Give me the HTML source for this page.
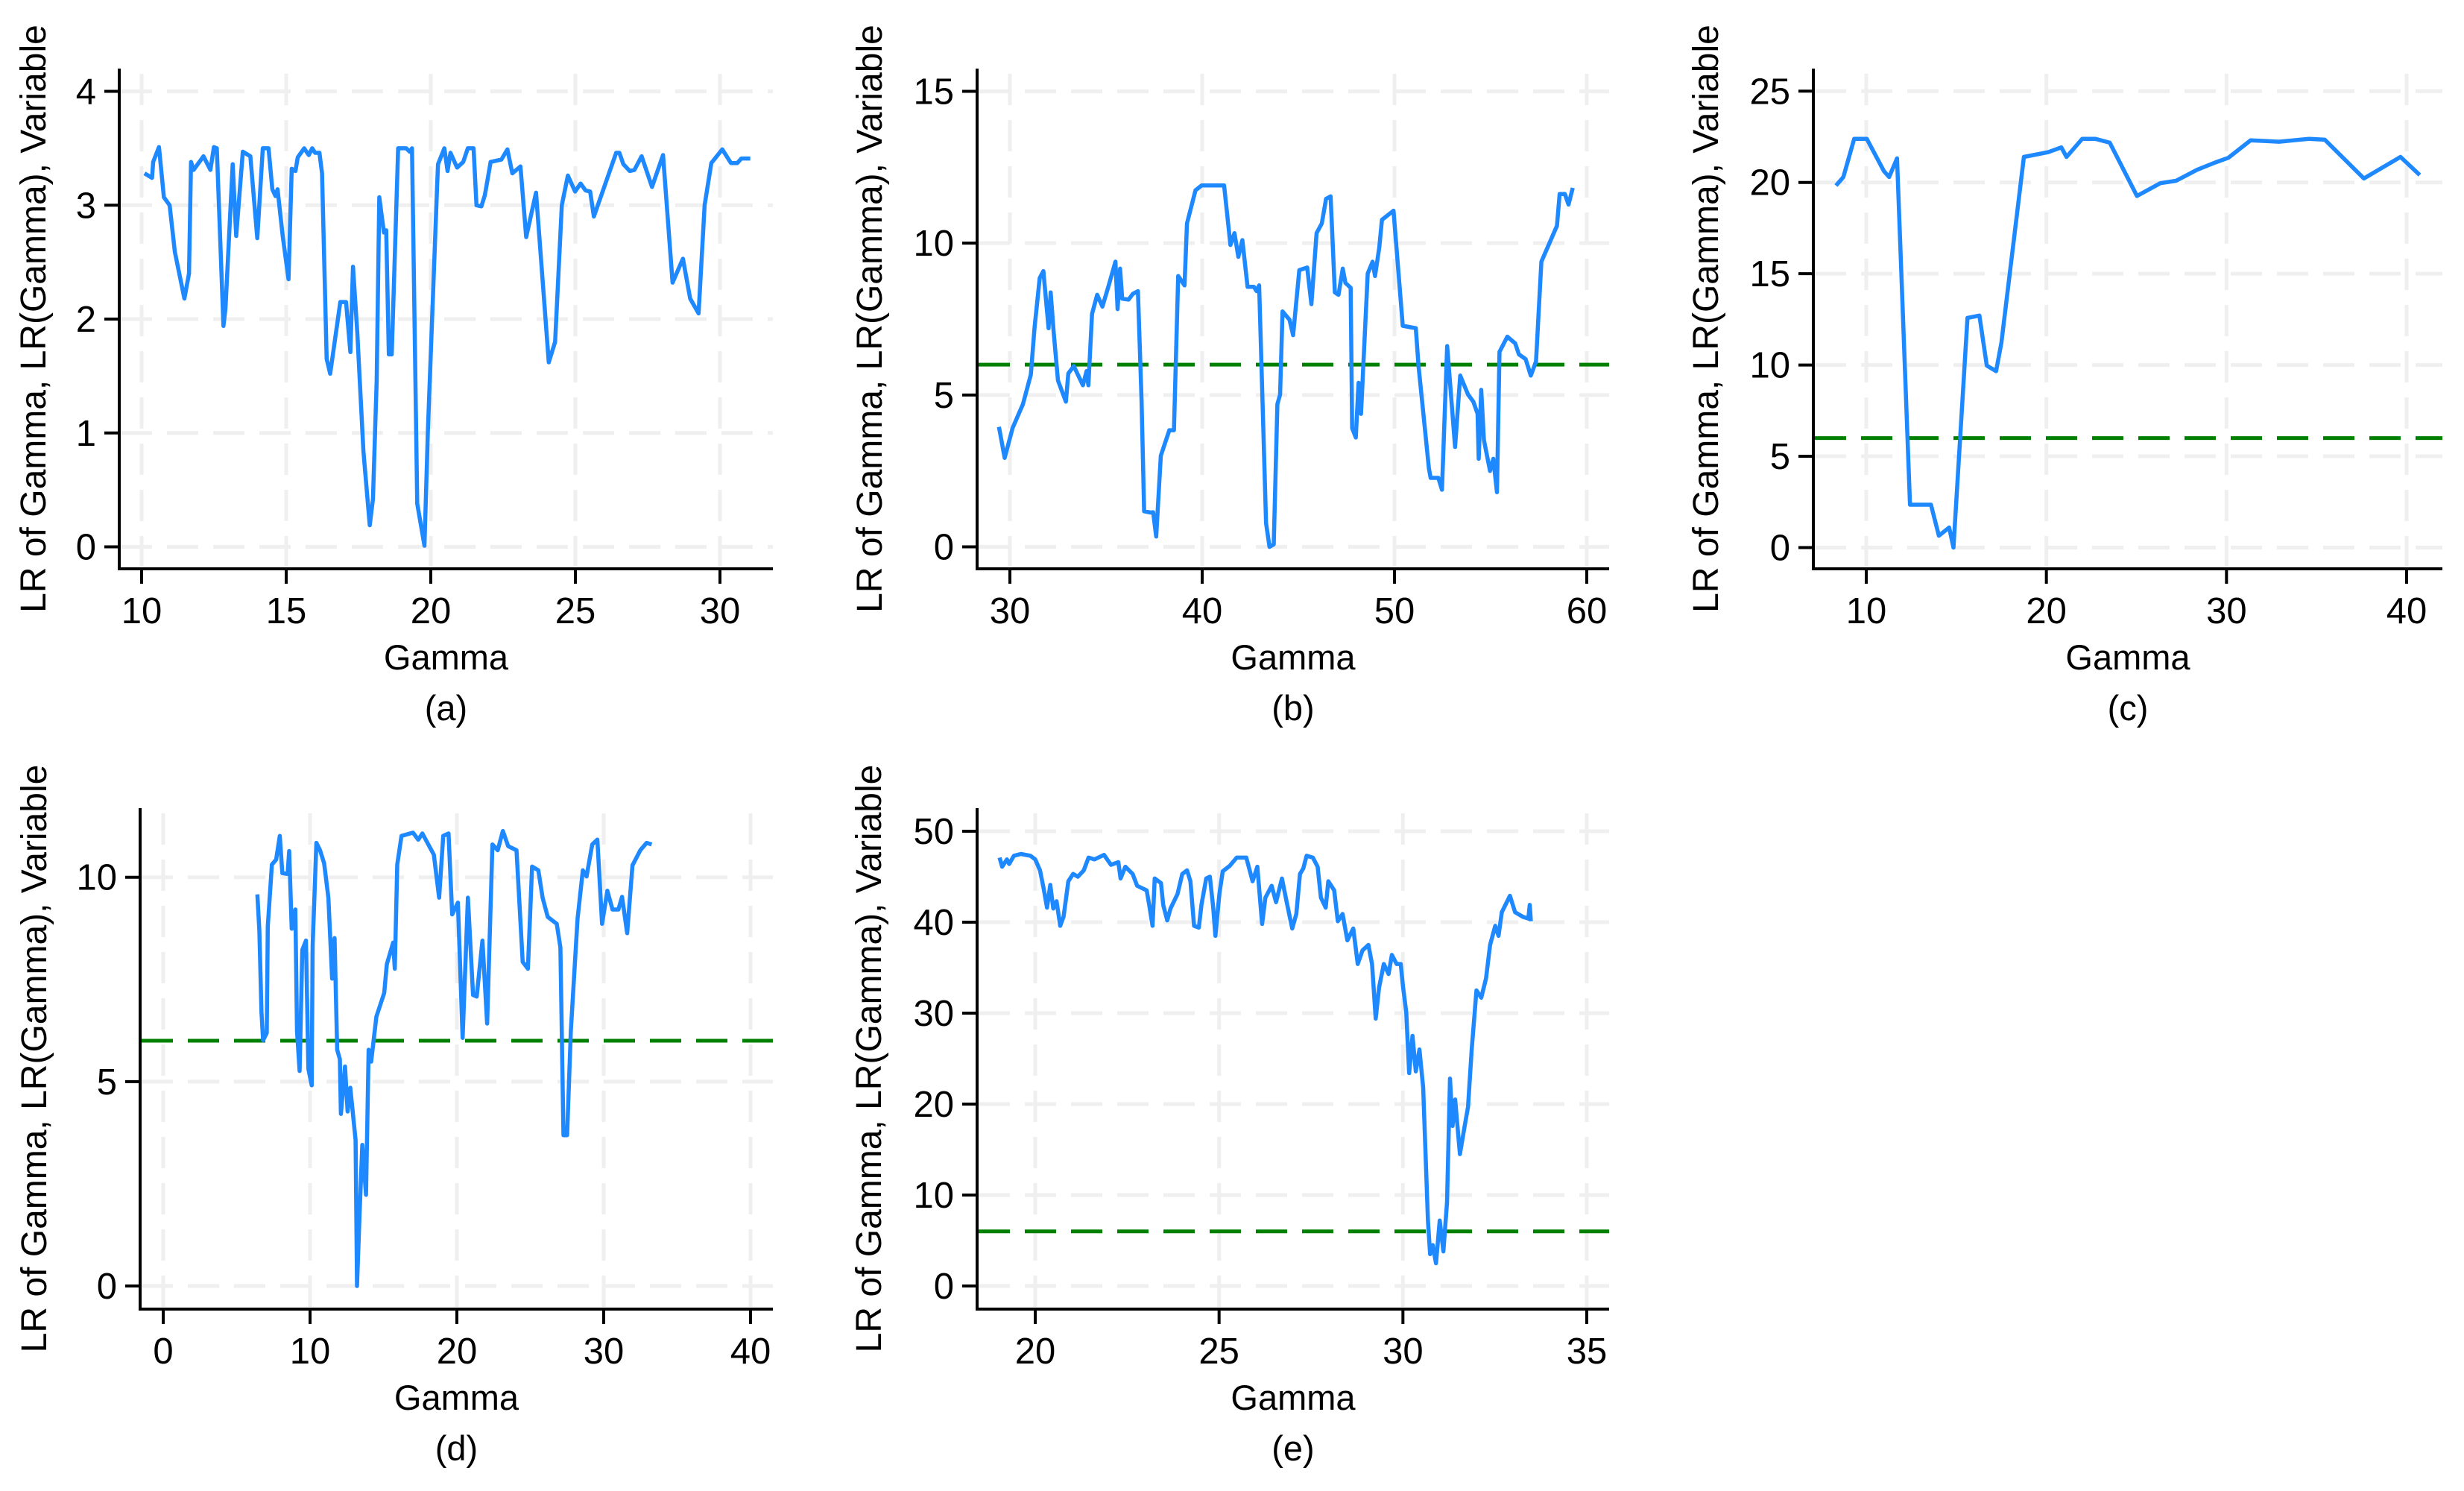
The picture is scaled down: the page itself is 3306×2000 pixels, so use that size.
<!DOCTYPE html>
<html><head><meta charset="utf-8"><style>
html,body{margin:0;padding:0;background:#fff;}
svg{display:block;}
text{font-family:"Liberation Sans",Arial,sans-serif;fill:#000;}
</style></head><body>
<svg id="fig" xmlns="http://www.w3.org/2000/svg" width="3306" height="2000" viewBox="0 0 3306 2000"></svg>
<script>
// ---- Panel (a) data ----
const aX=[10.1,10.36,10.4,10.6,10.77,10.97,11.15,11.48,11.64,11.71,11.8,12.14,12.38,12.5,12.6,12.83,12.9,13.15,13.27,13.5,13.76,14.0,14.19,14.39,14.52,14.63,14.7,14.88,15.08,15.19,15.32,15.4,15.62,15.78,15.9,16.0,16.15,16.24,16.4,16.52,16.87,17.07,17.22,17.31,17.46,17.67,17.89,18.0,18.13,18.22,18.38,18.46,18.55,18.65,18.87,19.15,19.27,19.35,19.53,19.78,19.9,20.22,20.25,20.47,20.58,20.68,20.91,21.12,21.28,21.48,21.58,21.75,21.87,22.07,22.44,22.65,22.82,23.1,23.3,23.64,24.08,24.3,24.53,24.74,24.99,25.18,25.35,25.51,25.64,26.41,26.52,26.66,26.88,27.04,27.29,27.65,28.03,28.36,28.72,28.97,29.26,29.47,29.7,30.08,30.38,30.6,30.74,31.05];
const aY=[3.28,3.24,3.38,3.51,3.07,3.0,2.59,2.18,2.4,3.38,3.31,3.43,3.31,3.51,3.5,1.94,2.09,3.36,2.73,3.47,3.43,2.71,3.5,3.5,3.14,3.08,3.14,2.73,2.35,3.32,3.3,3.42,3.5,3.44,3.5,3.46,3.46,3.28,1.65,1.52,2.15,2.15,1.71,2.46,1.88,0.84,0.19,0.42,1.46,3.07,2.76,2.78,1.69,1.69,3.5,3.5,3.47,3.5,0.38,0.01,1.02,3.17,3.36,3.5,3.3,3.46,3.33,3.38,3.5,3.5,3.0,2.99,3.09,3.38,3.4,3.49,3.28,3.34,2.72,3.11,1.62,1.8,3.0,3.26,3.12,3.19,3.13,3.12,2.9,3.46,3.46,3.36,3.3,3.31,3.43,3.16,3.44,2.32,2.53,2.18,2.05,3.0,3.37,3.49,3.37,3.37,3.41,3.41];
const aXTicks=[10,15,20,25,30];
const aYTicks=[0,1,2,3,4];
// ---- Panel (b) data ----
const bX=[29.43,29.73,30.14,30.68,31.09,31.28,31.55,31.74,32.01,32.12,32.28,32.5,32.91,33.04,33.32,33.8,33.99,34.08,34.27,34.54,34.81,35.14,35.49,35.6,35.73,35.84,36.17,36.39,36.66,36.85,36.98,37.31,37.45,37.61,37.85,38.29,38.53,38.75,39.08,39.21,39.65,39.97,40.38,41.14,41.47,41.68,41.88,42.09,42.36,42.69,42.83,42.96,43.18,43.32,43.5,43.72,43.91,44.05,44.18,44.54,44.73,45.05,45.46,45.68,45.95,46.22,46.44,46.68,46.9,47.09,47.31,47.45,47.72,47.8,47.99,48.13,48.26,48.61,48.86,48.99,49.21,49.35,49.95,50.43,50.84,51.11,51.25,51.79,51.88,52.28,52.47,52.74,53.15,53.42,53.83,54.1,54.32,54.38,54.51,54.65,54.97,55.14,55.33,55.46,55.87,56.28,56.47,56.82,57.09,57.36,57.64,58.45,58.59,58.86,59.05,59.27];
const bY=[3.95,2.93,3.91,4.7,5.67,7.2,8.85,9.08,7.2,8.38,7.05,5.48,4.78,5.71,5.95,5.32,5.79,5.32,7.67,8.3,7.91,8.61,9.39,7.83,9.16,8.17,8.14,8.33,8.42,4.78,1.17,1.13,1.14,0.34,3.0,3.84,3.84,8.92,8.61,10.65,11.74,11.9,11.9,11.9,9.94,10.33,9.55,10.1,8.56,8.56,8.42,8.61,3.91,0.78,0,0.08,4.7,5.01,7.75,7.48,6.97,9.11,9.2,7.99,10.33,10.65,11.46,11.54,8.38,8.3,9.16,8.69,8.53,3.91,3.6,5.4,4.38,9.0,9.39,8.92,9.86,10.77,11.07,7.28,7.23,7.2,5.95,2.58,2.27,2.27,1.88,6.61,3.29,5.64,5.01,4.78,4.38,2.9,5.17,3.52,2.5,2.9,1.8,6.42,6.92,6.7,6.34,6.18,5.64,6.1,9.39,10.57,11.62,11.62,11.27,11.82];
const bXTicks=[30,40,50,60];
const bYTicks=[0,5,10,15];
// ---- Panel (c) data ----
const cX=[8.32,8.73,9.33,10.03,10.98,11.27,11.71,12.43,13.59,14.03,14.6,14.84,15.62,16.28,16.69,17.21,17.5,18.75,20.11,20.83,21.12,21.99,22.71,23.52,25.03,26.33,27.2,28.36,29.37,30.1,31.34,32.91,34.59,35.46,37.63,39.66,40.73];
const cY=[19.83,20.3,22.39,22.39,20.62,20.3,21.32,2.35,2.35,0.65,1.1,0,12.58,12.71,9.97,9.66,11.22,21.4,21.66,21.92,21.4,22.39,22.39,22.18,19.26,19.96,20.09,20.69,21.09,21.35,22.31,22.23,22.39,22.34,20.22,21.4,20.41];
const cXTicks=[10,20,30,40];
const cYTicks=[0,5,10,15,20,25];
// ---- Panel (d) data ----
const dX=[6.41,6.55,6.69,6.8,7.05,7.12,7.4,7.69,7.94,8.11,8.47,8.58,8.75,9.0,9.11,9.29,9.47,9.72,9.89,10.11,10.18,10.43,10.68,10.96,11.25,11.5,11.67,11.85,12.03,12.1,12.38,12.56,12.74,13.1,13.2,13.38,13.56,13.81,13.99,14.16,14.52,15.05,15.23,15.66,15.77,15.94,16.23,17.01,17.37,17.65,18.43,18.79,19.07,19.43,19.68,20.07,20.39,20.75,21.1,21.35,21.74,22.06,22.42,22.78,23.13,23.49,24.06,24.48,24.84,25.12,25.55,25.84,26.19,26.8,27.05,27.26,27.51,27.76,28.22,28.58,28.83,29.22,29.57,29.89,30.25,30.6,31.0,31.25,31.6,31.96,32.49,32.92,33.27];
const dY=[9.58,8.69,6.71,6.01,6.19,8.8,10.31,10.43,11.01,10.1,10.08,10.64,8.74,9.21,6.24,5.26,8.22,8.45,5.31,4.91,8.34,10.84,10.66,10.34,9.5,7.52,8.51,5.78,5.55,4.21,5.37,4.27,4.85,3.57,0,1.83,3.45,2.23,5.78,5.49,6.59,7.17,7.87,8.4,7.76,10.31,11.01,11.09,10.92,11.07,10.55,9.5,11.01,11.07,9.09,9.38,6.07,9.5,7.12,7.08,8.45,6.42,10.8,10.66,11.13,10.76,10.66,7.93,7.76,10.26,10.17,9.5,9.03,8.86,8.28,3.69,3.69,6.24,8.98,10.17,10.02,10.8,10.92,8.86,9.67,9.21,9.21,9.52,8.63,10.29,10.66,10.84,10.8];
const dXTicks=[0,10,20,30,40];
const dYTicks=[0,5,10];
// ---- Panel (e) data ----
const eX=[19.03,19.1,19.23,19.29,19.42,19.61,19.87,20.0,20.13,20.23,20.32,20.41,20.49,20.58,20.68,20.77,20.9,21.03,21.16,21.32,21.45,21.61,21.87,22.06,22.26,22.32,22.45,22.65,22.77,23.03,23.1,23.19,23.25,23.42,23.48,23.59,23.68,23.87,24.0,24.13,24.22,24.32,24.45,24.52,24.65,24.75,24.84,24.9,25.01,25.1,25.29,25.48,25.74,25.91,26.04,26.17,26.26,26.43,26.55,26.71,26.84,26.99,27.1,27.2,27.29,27.38,27.55,27.68,27.77,27.9,27.97,28.13,28.23,28.36,28.49,28.65,28.77,28.9,29.06,29.16,29.26,29.35,29.48,29.61,29.7,29.83,29.94,30.0,30.09,30.17,30.26,30.35,30.45,30.55,30.68,30.74,30.81,30.9,31.0,31.1,31.2,31.28,31.35,31.42,31.55,31.68,31.77,31.87,32.0,32.13,32.26,32.37,32.51,32.6,32.69,32.91,33.05,33.26,33.41,33.45,33.48];
const eY=[47.1,46.1,46.9,46.4,47.3,47.5,47.3,46.9,45.7,43.7,41.6,44.1,41.5,42.3,39.6,40.6,44.5,45.3,45.0,45.7,47.1,46.9,47.4,46.3,46.6,44.8,46.1,45.3,44.0,43.5,41.9,39.6,44.8,44.3,41.9,40.2,41.5,43.1,45.3,45.7,44.5,39.6,39.4,41.9,44.8,45.0,41.6,38.5,43.2,45.6,46.2,47.1,47.1,44.5,46.1,39.8,42.7,44.0,42.2,44.8,42.2,39.3,40.9,45.3,45.9,47.3,47.1,46.1,42.7,41.6,44.5,43.5,40.1,40.9,38.0,39.3,35.4,36.9,37.5,35.4,29.4,32.8,35.4,34.3,36.4,35.4,35.4,33.0,30.1,23.4,27.5,23.6,26.0,21.8,7.2,3.5,4.5,2.5,7.2,3.8,9.2,22.8,17.6,20.5,14.5,17.6,19.7,26.0,32.5,31.7,33.8,37.5,39.6,38.5,41.1,42.9,41.1,40.6,40.4,41.9,40.1];
const eXTicks=[20,25,30,35];
const eYTicks=[0,10,20,30,40,50];
const critValue=6;

const NS="http://www.w3.org/2000/svg";
const svg=document.getElementById('fig');
function mk(tag,attrs,parent){const e=document.createElementNS(NS,tag);for(const k in attrs)e.setAttribute(k,attrs[k]);(parent||svg).appendChild(e);return e;}

function panel(cfg){
  const g=mk('g',{});
  
  
  const sx=v=>cfg.x0p+(v-cfg.x0v)*(cfg.x1p-cfg.x0p)/(cfg.x1v-cfg.x0v);
  const sy=v=>cfg.y0p+(v-cfg.y0v)*(cfg.y1p-cfg.y0p)/(cfg.y1v-cfg.y0v);
  cfg.xt.forEach(t=>{const l=mk('line',{x1:sx(t),x2:sx(t),y1:cfg.top+7,y2:cfg.bot-3,stroke:'#efefef','stroke-width':5,'stroke-dasharray':'42 20'},g);
    
    });
  cfg.yt.forEach(t=>{const l=mk('line',{x1:cfg.axL+2,x2:cfg.axR,y1:sy(t),y2:sy(t),stroke:'#efefef','stroke-width':5,'stroke-dasharray':'42 20'},g);
    
    });
  if(cfg.green){const l=mk('line',{x1:cfg.axL+2,x2:cfg.axR,y1:sy(critValue),y2:sy(critValue),stroke:'#008000','stroke-width':5,'stroke-dasharray':'42 20'},g);
    
    }
  const pts=cfg.X.map((x,i)=>sx(x).toFixed(1)+','+sy(cfg.Y[i]).toFixed(1)).join(' ');
  const pl=mk('polyline',{points:pts,fill:'none',stroke:'#1e88ff','stroke-width':5.5,'stroke-linejoin':'round'},g);
  
  
  const ya=mk('line',{x1:cfg.axL,x2:cfg.axL,y1:cfg.top,y2:cfg.bot+2,stroke:'#000','stroke-width':4},g);
  
  
  const xa=mk('line',{x1:cfg.axL-2,x2:cfg.axR,y1:cfg.bot,y2:cfg.bot,stroke:'#000','stroke-width':4},g);
  
  
  cfg.xt.forEach(t=>{mk('line',{x1:sx(t),x2:sx(t),y1:cfg.bot,y2:cfg.bot+20,stroke:'#000','stroke-width':4},g);
    const tx=mk('text',{x:sx(t),y:cfg.bot+73,'font-size':49,'text-anchor':'middle'},g);tx.textContent=t;
    
    });
  cfg.yt.forEach(t=>{mk('line',{x1:cfg.axL-20,x2:cfg.axL,y1:sy(t),y2:sy(t),stroke:'#000','stroke-width':4},g);
    const tx=mk('text',{x:cfg.axL-31,y:sy(t)+17,'font-size':49,'text-anchor':'end'},g);tx.textContent=t;
    
    });
  const cx=(cfg.axL+cfg.axR)/2, cy=(cfg.top+cfg.bot)/2;
  const xt=mk('text',{x:cx,y:cfg.bot+135,'font-size':47,'text-anchor':'middle'},g);xt.textContent='Gamma';
  
  
  const cap=mk('text',{x:cx,y:cfg.bot+203,'font-size':47,'text-anchor':'middle'},g);cap.textContent='('+cfg.id+')';
  
  
  const yt=mk('text',{x:0,y:0,'font-size':48,'text-anchor':'middle',transform:'translate('+cfg.titleX+','+cy+') rotate(-90)'},g);
  yt.textContent='LR of Gamma, LR(Gamma), Variable';
  
  
}
panel({id:'a',X:aX,Y:aY,xt:aXTicks,yt:aYTicks,axL:160,axR:1037,top:92,bot:763,x0v:10,x0p:190,x1v:30,x1p:966,y0v:0,y0p:733.5,y1v:4,y1p:122.5,green:false,titleX:61});
panel({id:'b',X:bX,Y:bY,xt:bXTicks,yt:bYTicks,axL:1311,axR:2159,top:92,bot:763,x0v:30,x0p:1355,x1v:60,x1p:2129,y0v:0,y0p:733.5,y1v:15,y1p:122.5,green:true,titleX:1183});
panel({id:'c',X:cX,Y:cY,xt:cXTicks,yt:cYTicks,axL:2433,axR:3277,top:92,bot:763,x0v:10,x0p:2504,x1v:40,x1p:3229,y0v:0,y0p:734.5,y1v:25,y1p:122.3,green:true,titleX:2305});
panel({id:'d',X:dX,Y:dY,xt:dXTicks,yt:dYTicks,axL:188,axR:1037,top:1084,bot:1756,x0v:0,x0p:219,x1v:40,x1p:1007,y0v:0,y0p:1725,y1v:10,y1p:1176.7,green:true,titleX:62});
panel({id:'e',X:eX,Y:eY,xt:eXTicks,yt:eYTicks,axL:1311,axR:2159,top:1084,bot:1756,x0v:20,x0p:1389,x1v:35,x1p:2129,y0v:0,y0p:1725,y1v:50,y1p:1115,green:true,titleX:1182});
</script>
</body></html>
